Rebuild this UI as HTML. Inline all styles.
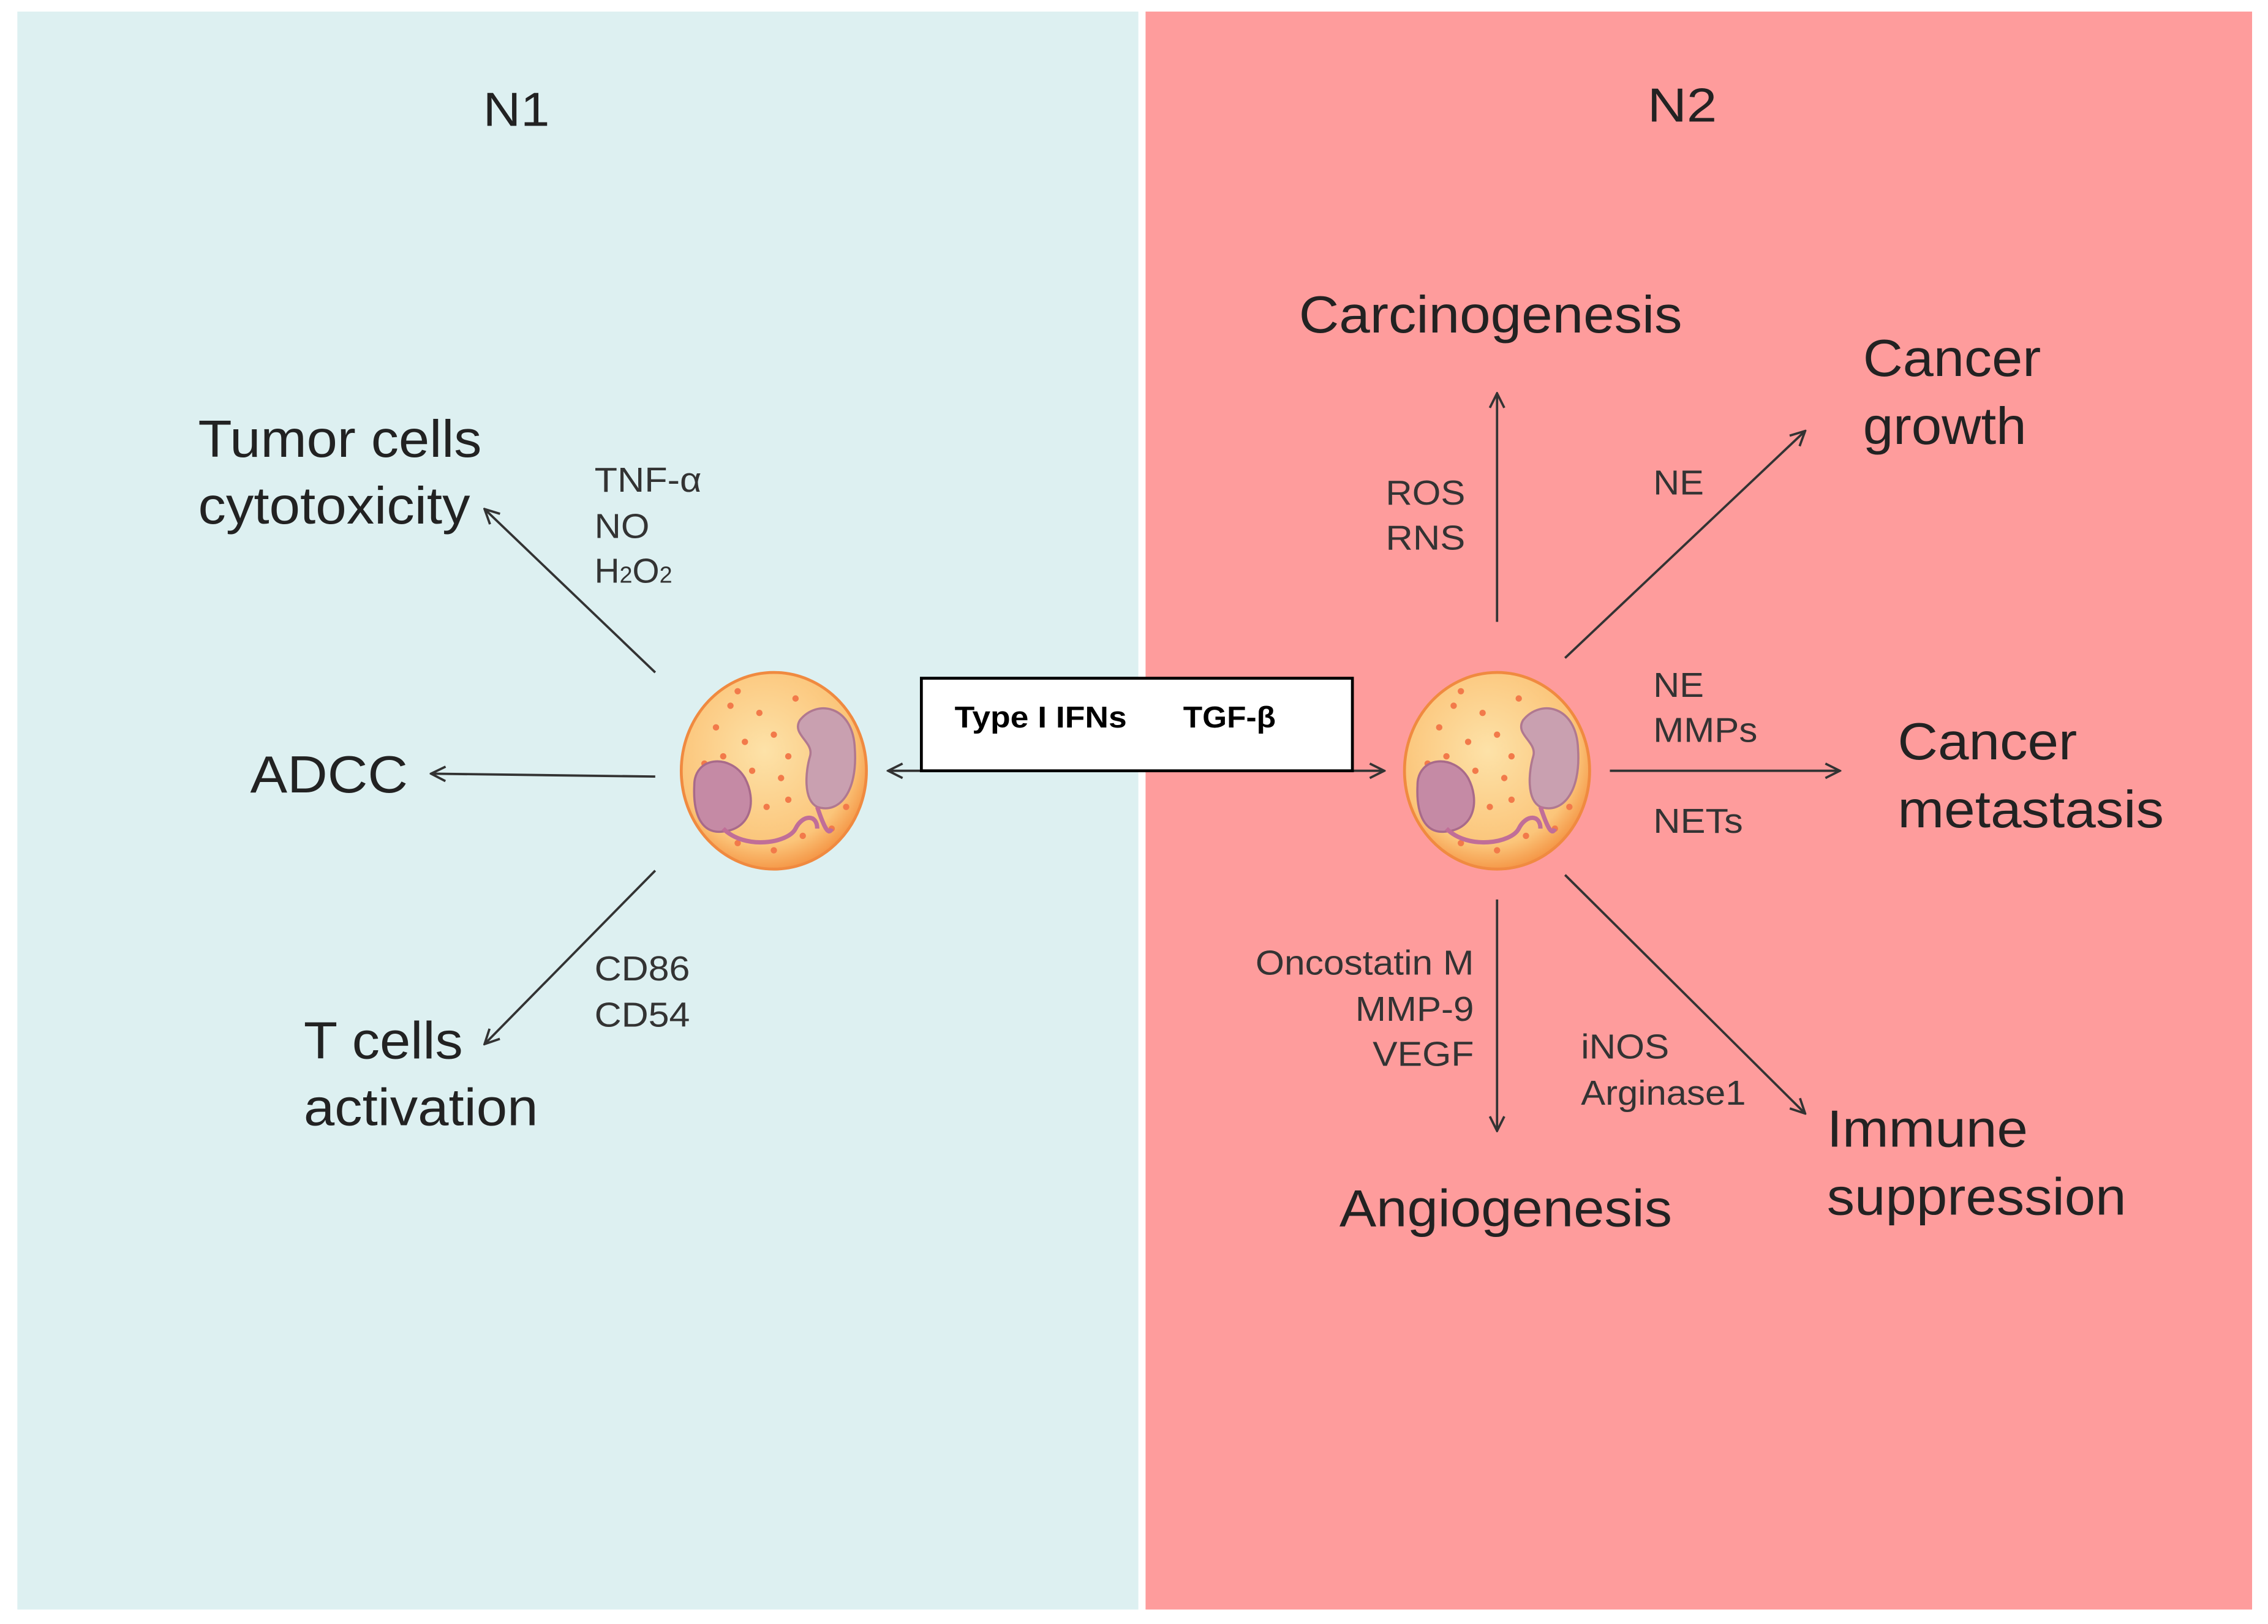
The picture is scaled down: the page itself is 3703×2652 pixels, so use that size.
<!DOCTYPE html>
<html><head><meta charset="utf-8"><style>html,body{margin:0;padding:0;background:#fff}svg{display:block}</style></head>
<body>
<svg width="3703" height="2652" viewBox="0 0 1568 1123" preserveAspectRatio="none" xmlns="http://www.w3.org/2000/svg" font-family="Liberation Sans, sans-serif">
<defs>
<marker id="a" viewBox="0 0 12 12" refX="11" refY="6" markerWidth="12" markerHeight="12" markerUnits="userSpaceOnUse" orient="auto-start-reverse"><path d="M1,1 L11,6 L1,11" fill="none" stroke="#333" stroke-width="1.6"/></marker>
<radialGradient id="cg" cx="0.45" cy="0.4" r="0.6"><stop offset="0" stop-color="#fde2a8"/><stop offset="0.8" stop-color="#fbc57a"/><stop offset="1" stop-color="#f59a4a"/></radialGradient>
<g id="cell">
<ellipse cx="0" cy="0" rx="64" ry="68" fill="url(#cg)" stroke="#f08a40" stroke-width="2"/>
<g fill="#f27a4a">
<circle cx="-40" cy="-30" r="2.2"/><circle cx="-30" cy="-45" r="2.2"/><circle cx="-20" cy="-20" r="2.2"/><circle cx="-48" cy="-5" r="2.2"/><circle cx="-35" cy="-10" r="2.2"/><circle cx="-10" cy="-40" r="2.2"/><circle cx="0" cy="-25" r="2.2"/><circle cx="-15" cy="0" r="2.2"/><circle cx="5" cy="5" r="2.2"/><circle cx="10" cy="20" r="2.2"/><circle cx="-5" cy="25" r="2.2"/><circle cx="20" cy="45" r="2.2"/><circle cx="-25" cy="50" r="2.2"/><circle cx="0" cy="55" r="2.2"/><circle cx="40" cy="40" r="2.2"/><circle cx="-50" cy="30" r="2.2"/><circle cx="10" cy="-10" r="2.2"/><circle cx="-25" cy="-55" r="2.2"/><circle cx="15" cy="-50" r="2.2"/><circle cx="50" cy="25" r="2.2"/>
</g>
<path d="M18,-35 C30,-50 55,-45 56,-15 C58,15 45,30 30,25 C20,20 22,0 25,-10 C28,-20 12,-25 18,-35Z" fill="#c9a0b0" stroke="#b07890" stroke-width="1.5"/>
<path d="M-55,10 C-55,-10 -30,-12 -20,5 C-12,20 -15,40 -35,42 C-50,44 -56,30 -55,10Z" fill="#c58aa5" stroke="#a86a8a" stroke-width="1.5"/>
<path d="M-35,40 C-20,55 10,50 15,40 C20,30 30,30 30,40 M30,25 C35,40 38,45 40,40" fill="none" stroke="#c06e98" stroke-width="3"/>
</g>
</defs>
<rect x="12" y="8" width="775" height="1105" fill="#ddf0f1"/>
<rect x="792" y="8" width="765" height="1105" fill="#fe9c9c"/>
<g font-size="33" fill="#222"><text x="334" y="87" textLength="46" lengthAdjust="spacingAndGlyphs">N1</text><text x="1139" y="84" textLength="48" lengthAdjust="spacingAndGlyphs">N2</text></g>
<g stroke="#333" stroke-width="1.6" fill="none" marker-end="url(#a)">
<line x1="453" y1="465" x2="335" y2="352"/>
<line x1="453" y1="537" x2="298" y2="535"/>
<line x1="453" y1="602" x2="335" y2="722"/>
<line x1="1035" y1="430" x2="1035" y2="272"/>
<line x1="1082" y1="455" x2="1248" y2="298"/>
<line x1="1113" y1="533" x2="1272" y2="533"/>
<line x1="1035" y1="622" x2="1035" y2="782"/>
<line x1="1082" y1="605" x2="1248" y2="770"/>
<line x1="614" y1="533" x2="957" y2="533" marker-start="url(#a)"/>
</g>
<use href="#cell" x="535" y="533"/>
<use href="#cell" x="1035" y="533"/>
<rect x="637" y="469" width="298" height="64" fill="#fff" stroke="#000" stroke-width="2"/>
<g font-size="21" font-weight="bold" fill="#000" lengthAdjust="spacingAndGlyphs"><text x="660" y="503" textLength="119" lengthAdjust="spacingAndGlyphs">Type I IFNs</text><text x="818" y="503" textLength="64" lengthAdjust="spacingAndGlyphs">TGF-β</text></g>
<g font-size="36" fill="#222">
<text x="137" y="316" textLength="196" lengthAdjust="spacingAndGlyphs">Tumor cells</text><text x="137" y="362" textLength="188" lengthAdjust="spacingAndGlyphs">cytotoxicity</text>
<text x="173" y="548" textLength="109" lengthAdjust="spacingAndGlyphs">ADCC</text>
<text x="210" y="732" textLength="110" lengthAdjust="spacingAndGlyphs">T cells</text><text x="210" y="778" textLength="162" lengthAdjust="spacingAndGlyphs">activation</text>
<text x="898" y="230" textLength="265" lengthAdjust="spacingAndGlyphs">Carcinogenesis</text>
<text x="1288" y="260" textLength="123" lengthAdjust="spacingAndGlyphs">Cancer</text><text x="1288" y="307" textLength="113" lengthAdjust="spacingAndGlyphs">growth</text>
<text x="1312" y="525" textLength="124" lengthAdjust="spacingAndGlyphs">Cancer</text><text x="1312" y="572" textLength="184" lengthAdjust="spacingAndGlyphs">metastasis</text>
<text x="926" y="848" textLength="230" lengthAdjust="spacingAndGlyphs">Angiogenesis</text>
<text x="1263" y="793" textLength="139" lengthAdjust="spacingAndGlyphs">Immune</text><text x="1263" y="840" textLength="207" lengthAdjust="spacingAndGlyphs">suppression</text>
</g>
<g font-size="24" fill="#333">
<text x="411" y="340" textLength="74" lengthAdjust="spacingAndGlyphs">TNF-α</text><text x="411" y="372" textLength="38" lengthAdjust="spacingAndGlyphs">NO</text><text x="411" y="403">H<tspan font-size="16">2</tspan>O<tspan font-size="16">2</tspan></text>
<text x="411" y="678" textLength="66" lengthAdjust="spacingAndGlyphs">CD86</text><text x="411" y="710" textLength="66" lengthAdjust="spacingAndGlyphs">CD54</text>
<text x="1143" y="342" textLength="35" lengthAdjust="spacingAndGlyphs">NE</text>
<text x="1143" y="482" textLength="35" lengthAdjust="spacingAndGlyphs">NE</text><text x="1143" y="513" textLength="72" lengthAdjust="spacingAndGlyphs">MMPs</text><text x="1143" y="576" textLength="62" lengthAdjust="spacingAndGlyphs">NETs</text>
<text x="1093" y="732" textLength="61" lengthAdjust="spacingAndGlyphs">iNOS</text><text x="1093" y="764" textLength="114" lengthAdjust="spacingAndGlyphs">Arginase1</text>
<text x="958" y="349" textLength="55" lengthAdjust="spacingAndGlyphs">ROS</text><text x="958" y="380" textLength="55" lengthAdjust="spacingAndGlyphs">RNS</text>
<text x="868" y="674" textLength="151" lengthAdjust="spacingAndGlyphs">Oncostatin M</text><text x="937" y="706" textLength="82" lengthAdjust="spacingAndGlyphs">MMP-9</text><text x="949" y="737" textLength="70" lengthAdjust="spacingAndGlyphs">VEGF</text>
</g>
</svg>
</body></html>
